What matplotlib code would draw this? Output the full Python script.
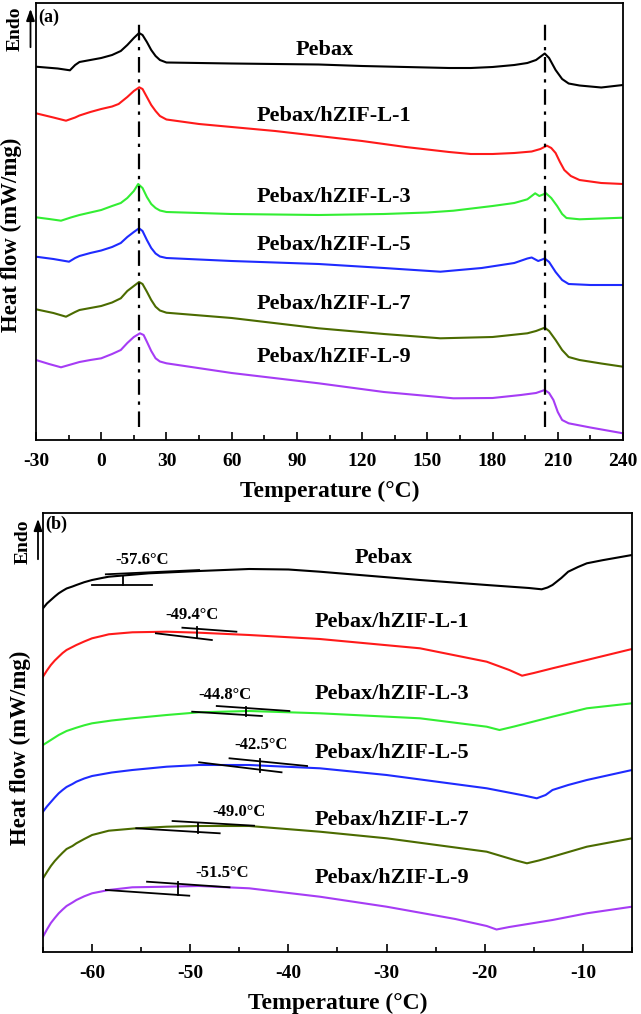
import numpy as np
import matplotlib
matplotlib.use("Agg")
import matplotlib.pyplot as plt
from matplotlib.ticker import MultipleLocator

plt.rcParams['font.family'] = ['Liberation Serif', 'DejaVu Serif']
plt.rcParams['font.weight'] = 'bold'
plt.rcParams['axes.unicode_minus'] = False

names = ["Pebax", "Pebax/hZIF-L-1", "Pebax/hZIF-L-3",
         "Pebax/hZIF-L-5", "Pebax/hZIF-L-7", "Pebax/hZIF-L-9"]
colors = ["black", "#ff1a1a", "#33ee33", "#1f2bff", "#4b6b00", "#a63cf5"]

# ---- panel (a): full heating scan, heat flow in arbitrary units ----
Ta_black = [-30, -20, -14.4, -12, -10, -5, 0, 5, 9, 12, 15, 17.4, 19, 21, 23, 25, 27, 30,
            45, 60, 80, 100, 120, 140, 160, 170, 180, 190, 196, 200, 204, 206, 209, 212,
            215, 220, 230, 240]
ya_black = [373.3, 371.5, 369.7, 375, 378, 380, 382, 385, 389, 395, 402, 407, 405, 398, 390,
            384, 380, 377.5, 377, 376.5, 376, 375.5, 374, 373, 372, 372, 373, 375, 377, 380,
            386.5, 382, 370, 361, 356.5, 354.5, 352.5, 355]

Ta_red = [-30, -22, -16.2, -12, -10, -5, 0, 5, 8, 12, 15, 17.5, 19, 21, 23, 25, 27, 30,
          45, 60, 80, 100, 120, 140, 160, 170, 180, 190, 198, 202, 205, 207, 209, 211,
          213, 216, 220, 230, 240]
ya_red = [326.7, 322.5, 319.3, 322.5, 324.5, 328, 331, 333.5, 336, 343, 349, 352.7, 351, 343,
          335, 329, 324, 320.5, 316, 313, 309, 304, 299, 293, 288, 286, 286, 287, 288.5,
          291, 294.3, 292, 287, 278, 270, 264, 260, 257, 256]

Ta_green = [-30, -24, -18.5, -14, -10, -5, 0, 5, 9, 12, 15, 17, 19, 21, 23, 25, 27, 30,
            60, 100, 130, 150, 162, 180, 190, 196, 199.6, 201.5, 204.6, 207, 209.7, 212,
            214, 220, 230, 240]
ya_green = [222.7, 221, 219.3, 222.5, 225, 227.5, 230, 234, 237, 242, 249, 256, 252, 243,
            236, 232, 229.5, 228, 226, 225, 226, 227.5, 229.3, 234, 237, 240.7, 246.7, 244,
            246.7, 242, 234, 226, 222, 220.7, 221.5, 222.3]

Ta_blue = [-30, -22, -14.8, -12, -10, -5, 0, 5, 9, 12, 15, 17.4, 19, 21, 23, 25, 27, 30,
           60, 100, 130, 156, 175, 190, 196, 198, 201, 204, 206, 209, 212, 215, 225, 240]
ya_blue = [183.3, 181, 178.3, 182, 184, 187, 189.5, 193, 197, 203, 208, 211.7, 209, 200,
           192, 186.5, 183.5, 182, 179, 176, 172, 168.3, 172, 177, 181.5, 182.5, 179, 181.5,
           178, 168, 160, 156, 155, 155]

Ta_olive = [-30, -22, -16.2, -12, -10, -5, 0, 5, 9, 12, 15, 17.4, 19, 21, 23, 25, 27, 30,
            60, 100, 130, 156, 180, 196, 200, 204, 206, 209, 212, 215, 220, 230, 240]
ya_olive = [130.7, 127, 123.3, 128, 130, 132, 134, 137.5, 141.7, 149, 154, 158, 156, 148.3,
            140, 133.3, 129.5, 127.3, 122, 111.7, 106, 101.7, 103, 106.7, 109, 112.3, 109,
            100, 90, 83, 80, 76.5, 73.3]

Ta_purple = [-30, -24, -18.5, -14, -10, -5, 0, 5, 9, 12, 15, 17.8, 19.5, 21, 23, 25, 27, 30,
             60, 100, 130, 162, 180, 193, 200, 204, 206, 208, 210, 212, 215, 225, 240]
ya_purple = [80, 76, 72.7, 75.5, 78, 80, 81.7, 86, 90, 97, 103, 106.7, 105, 98.3, 89, 81.7,
             78.5, 76.7, 67, 56.7, 48, 41.7, 42, 45, 47, 50, 47, 40, 28, 20, 16.7, 12.5, 6.7]

melt_peaks = [17.4, 204]
label_y_a = [390, 324, 243, 195, 136, 83]

# ---- panel (b): glass transition region ----
Tb_black = [-65, -64.6, -64.2, -63.8, -63.4, -63, -62.6, -62, -61.6, -60.8, -60, -59, -58.3,
            -56, -54.2, -49.1, -44, -40, -36.8, -26.6, -19.8, -15.5, -14.2, -13.6, -13.1,
            -12.2, -11.5, -10.5, -9.6, -8, -6.9, -5]
yb_black = [343.7, 348.5, 352, 355.5, 358.7, 361.2, 363.5, 365.5, 367, 369.8, 372, 374,
            375.3, 377.2, 378.7, 381, 383, 382.5, 380.3, 372, 367, 364, 362.7, 364.5, 367,
            374, 380.3, 385, 388.7, 391.8, 393.7, 397]

Tb_red = [-65, -64.6, -64.2, -63.8, -63.4, -63, -62.6, -62, -61.6, -60.8, -60, -59, -58.3,
          -57, -55.9, -52.4, -49.1, -44, -36.8, -26.6, -19.8, -17.5, -16.2, -15, -13.1,
          -9.6, -5]
yb_red = [275.3, 281.5, 287, 291.5, 295.3, 299, 302, 305, 307, 310.5, 313.7, 316, 317.7,
          318.8, 319.7, 320.3, 319.3, 317, 313, 303.7, 290.3, 282, 276.3, 279, 283.7, 292, 303]

Tb_green = [-65, -64.6, -64.2, -63.8, -63.4, -62.6, -61.6, -60.8, -60, -58, -55.9, -52.4,
            -49.1, -44, -36.8, -26.6, -19.8, -18.5, -17, -13.1, -9.6, -5]
yb_green = [207, 209.5, 212, 214.5, 217, 221, 224.3, 226.7, 228.7, 231.5, 233.7, 237, 239.7,
            241, 238.7, 233.7, 225.3, 222, 225.5, 235.3, 243.7, 248.7]

Tb_blue = [-65, -64.6, -64.2, -63.8, -63.4, -63, -62.6, -62, -61.6, -60.8, -60, -58,
           -55.9, -52.4, -49.1, -44, -36.8, -30, -19.8, -16, -14.7, -13.8, -13.1, -11.5,
           -9.6, -5]
yb_blue = [140.3, 145.5, 150, 154.5, 158.7, 162, 165, 168, 170.3, 173.5, 176, 179.5, 182,
           185.3, 187, 187, 183.7, 177, 163.7, 156.5, 153.7, 157, 162, 167, 172, 182]

Tb_olive = [-65, -64.6, -64.2, -63.8, -63.4, -63, -62.6, -62, -61.6, -60.8, -60, -58.3,
            -55.5, -52.4, -49.1, -44, -36.8, -30, -19.8, -16.8, -15.7, -14.5, -13.1, -9.6, -5]
yb_olive = [73.7, 80, 86, 91, 95.3, 99.3, 103, 106, 108.7, 113, 117, 121.3, 123.7, 125.3,
            126, 126, 120.3, 113.7, 100.3, 91.5, 88.7, 91.5, 95.3, 105.3, 113.7]

Tb_purple = [-65, -64.6, -64.2, -63.8, -63.4, -63, -62.6, -62, -61.6, -60.8, -60, -58.3,
             -55.9, -52.4, -49.1, -44, -36.8, -30, -23, -19.8, -18.8, -17.5, -13.1, -9.6, -5]
yb_purple = [15.3, 22.5, 29, 34, 38.7, 42.5, 46, 49.5, 52, 55.7, 58.7, 62, 64.7, 65.3, 66,
             63.7, 55.3, 45.3, 33, 26, 22.5, 25, 32, 38.7, 45.3]

# tangent construction: (T1, y1, T2, y2) for upper and lower baselines, Tg mark (T, y_top, y_bot)
tg_labels = ["-57.6°C", "-49.4°C", "-44.8°C", "-42.5°C", "-49.0°C", "-51.5°C"]
tg_upper = [(-58.6, 377.7, -49.1, 382), (-50.8, 324.3, -45.3, 320.3), (-47.3, 246, -39.9, 241),
            (-46, 193.7, -38.1, 186), (-51.8, 131, -43.5, 126.3), (-54.4, 70.3, -46, 64.7)]
tg_lower = [(-60, 367, -53.9, 367), (-53.5, 318.7, -47.8, 312), (-49.8, 240.3, -42.7, 236),
            (-49.1, 189.7, -40.7, 179.7), (-55.5, 123.7, -47, 118.7), (-58.6, 62, -50.1, 56.3)]
tg_mark = [(-56.9, 376.3, 367), (-49.3, 325, 314), (-44.3, 245, 236),
           (-42.9, 193, 180.3), (-49.2, 129, 119), (-51.2, 70, 57)]
tg_text_pos = [(-54.9, 392), (-49.8, 337), (-46.5, 257), (-42.8, 207), (-45, 140.3), (-46.8, 78.7)]
label_y_b = [394, 330, 258, 199, 132, 74]

curves_a = [(Ta_black, ya_black), (Ta_red, ya_red), (Ta_green, ya_green),
            (Ta_blue, ya_blue), (Ta_olive, ya_olive), (Ta_purple, ya_purple)]
curves_b = [(Tb_black, yb_black), (Tb_red, yb_red), (Tb_green, yb_green),
            (Tb_blue, yb_blue), (Tb_olive, yb_olive), (Tb_purple, yb_purple)]

W, H = 641, 1014
fig = plt.figure(figsize=(W / 100, H / 100), dpi=100)
axa = fig.add_axes([36 / W, 1 - 440 / H, 587 / W, 437 / H])
axb = fig.add_axes([43 / W, 1 - 952 / H, 589 / W, 439 / H])


def style(ax):
    for s in ax.spines.values():
        s.set_linewidth(1.3)
    ax.set_yticks([])
    ax.tick_params(axis='x', which='major', direction='in', length=6, width=1.2,
                   labelsize=14, pad=9, top=False)
    ax.tick_params(axis='x', which='minor', direction='in', length=3.5, width=1.2, top=False)
    for lab in ax.get_xticklabels():
        lab.set_fontweight('bold')
    ax.set_xlabel("Temperature (°C)", fontsize=17, fontweight='bold', labelpad=8)


# panel (a)
for (T, y), c in zip(curves_a, colors):
    axa.plot(T, y, color=c, lw=1.5)
for t in melt_peaks:
    axa.plot([t, t], [13, 418], color='k', lw=1.6, ls=(0, (7, 3, 1.5, 3)))
axa.text(103, label_y_a[0], names[0], fontsize=16, fontweight='bold', ha='center', va='center')
for n, yy in zip(names[1:], label_y_a[1:]):
    axa.text(107, yy, n, fontsize=16, fontweight='bold', ha='center', va='center')
axa.set_xlim(-30, 240)
axa.set_ylim(0, 437)
axa.xaxis.set_major_locator(MultipleLocator(30))
axa.xaxis.set_minor_locator(MultipleLocator(15))
style(axa)
axa.set_ylabel("Heat flow (mW/mg)", fontsize=16.5, fontweight='bold')
axa.yaxis.set_label_coords(-0.024, 0.469)
axa.text(0.003, 0.968, "(a)", transform=axa.transAxes, fontsize=13, fontweight='bold',
         ha='left', va='center')

# panel (b)
for (T, y), c in zip(curves_b, colors):
    axb.plot(T, y, color=c, lw=1.5)
for up, lo, mk, lab, pos in zip(tg_upper, tg_lower, tg_mark, tg_labels, tg_text_pos):
    axb.plot([up[0], up[2]], [up[1], up[3]], color='k', lw=1.3)
    axb.plot([lo[0], lo[2]], [lo[1], lo[3]], color='k', lw=1.3)
    axb.plot([mk[0], mk[0]], [mk[1], mk[2]], color='k', lw=1.3)
    axb.text(pos[0], pos[1], lab, fontsize=12, fontweight='bold', ha='center', va='center')
axb.text(-30.3, label_y_b[0], names[0], fontsize=16, fontweight='bold', ha='center', va='center')
for n, yy in zip(names[1:], label_y_b[1:]):
    axb.text(-29.5, yy, n, fontsize=16, fontweight='bold', ha='center', va='center')
axb.set_xlim(-65, -5)
axb.set_ylim(0, 439)
axb.xaxis.set_major_locator(MultipleLocator(10))
axb.xaxis.set_minor_locator(MultipleLocator(5))
style(axb)
axb.set_ylabel("Heat flow (mW/mg)", fontsize=16.5, fontweight='bold')
axb.yaxis.set_label_coords(-0.021, 0.464)
axb.text(0.003, 0.975, "(b)", transform=axb.transAxes, fontsize=13, fontweight='bold',
         ha='left', va='center')

# "Endo" arrows
for tx, ty, ax_x, y0, y1 in [(15, 29, 30.5, 50, 6), (23.5, 542, 38, 562, 516)]:
    fig.text(tx / W, 1 - ty / H, "Endo", rotation=90, fontsize=14, fontweight='bold',
             ha='center', va='center')
    fig.add_artist(matplotlib.patches.FancyArrowPatch(
        (ax_x / W, 1 - y0 / H), (ax_x / W, 1 - y1 / H), transform=fig.transFigure,
        arrowstyle='-|>,head_width=2.5,head_length=7', lw=1.3, color='k'))

fig.savefig("out.png", dpi=100)
